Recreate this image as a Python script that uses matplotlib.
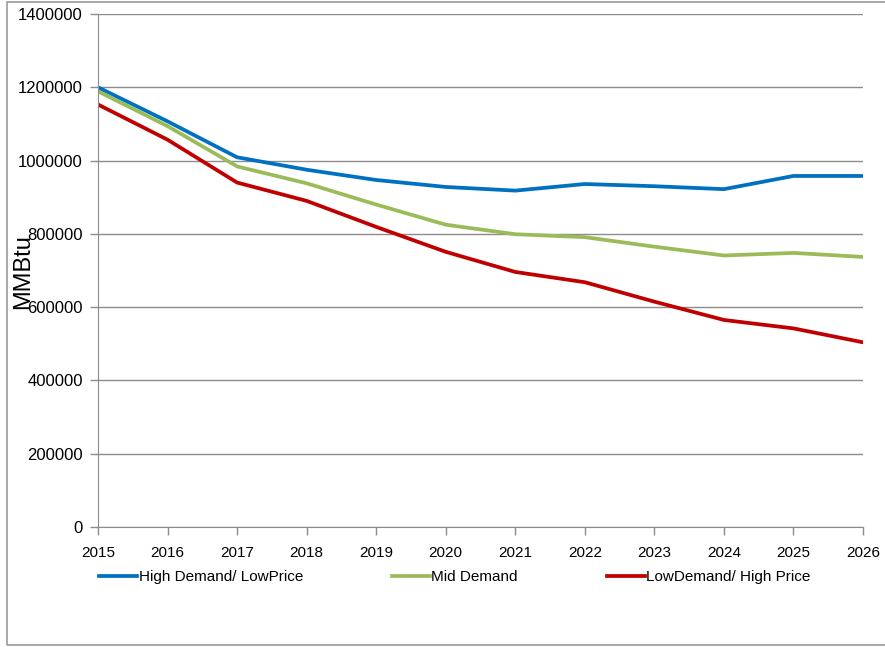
import matplotlib
matplotlib.use("Agg")
import matplotlib.pyplot as plt
from matplotlib.patches import Rectangle

plt.rcParams['font.family'] = ['Liberation Sans', 'DejaVu Sans']

years = list(range(2015, 2027))
high_demand = [1200000, 1107000, 1009000, 975000, 947000, 928000,
               918000, 936000, 930000, 922000, 958000, 958000]
mid_demand = [1189000, 1094000, 984000, 938000, 880000, 825000,
              799000, 791000, 765000, 741000, 748000, 737000]
low_demand = [1153000, 1057000, 940000, 890000, 819000, 751000,
              696000, 668000, 615000, 565000, 542000, 504000]
series_labels = ["High Demand/ LowPrice", "Mid Demand", "LowDemand/ High Price"]
y_ticks = list(range(0, 1400001, 200000))

W, H = 885, 647
fig = plt.figure(figsize=(W / 100, H / 100), dpi=100)
ax = fig.add_axes([98 / W, 1 - 527 / H, (863 - 98) / W, (527 - 14) / H])

# outer chart frame, right edge runs off the canvas
fig.patches.append(Rectangle((7 / W, 1 - 645 / H), 1.0, (645 - 2) / H,
                             transform=fig.transFigure, fill=False,
                             edgecolor='#9a9a9a', linewidth=1.2))

ax.plot(years, high_demand, color='#0070C0', lw=2.7, label=series_labels[0])
ax.plot(years, mid_demand, color='#9BBB59', lw=2.7, label=series_labels[1])
ax.plot(years, low_demand, color='#C00000', lw=2.7, label=series_labels[2])

ax.set_xlim(2015, 2026)
ax.set_ylim(0, 1400000)
ax.set_xticks(years)
ax.set_yticks(y_ticks)
ax.set_yticklabels([str(v) for v in y_ticks])
ax.yaxis.grid(True, color='#8c8c8c', lw=1.0)
ax.set_axisbelow(True)
for s in ['top', 'right']:
    ax.spines[s].set_visible(False)
for s in ['left', 'bottom']:
    ax.spines[s].set_color('#8c8c8c')
ax.tick_params(axis='both', colors='#8c8c8c', labelcolor='black',
               length=6, width=1)
ax.tick_params(axis='x', pad=8, labelsize=11)
ax.tick_params(axis='y', pad=5, labelsize=12)

fig.text(23 / W, 1 - 272 / H, "MMBtu", rotation=90, fontsize=17,
         ha='center', va='center')

fig.legend(loc='center left', bbox_to_anchor=(99 / W, 1 - 577 / H), ncol=3,
           frameon=False, fontsize=11, handlelength=2.5, handletextpad=0.1,
           columnspacing=5.8, borderaxespad=0, borderpad=0)

fig.savefig("out.png", dpi=100)
